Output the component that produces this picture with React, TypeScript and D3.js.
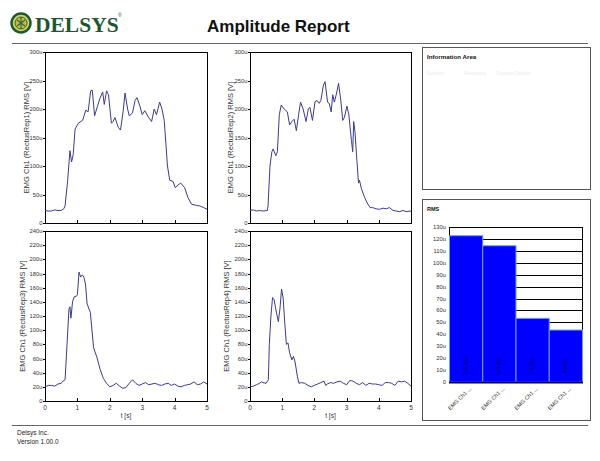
import React from "react";
import * as d3 from "d3";

// ---- Data ----
const rep1: [number, number][] = [
  [0, 22], [0.1, 21], [0.2, 21], [0.3, 23], [0.4, 22], [0.5, 22], [0.58, 25], [0.62, 30],
  [0.7, 75], [0.77, 127], [0.82, 107], [0.87, 120], [0.93, 165], [1.03, 175], [1.16, 180],
  [1.26, 198], [1.33, 195], [1.41, 232], [1.46, 233], [1.53, 188], [1.62, 205], [1.69, 218],
  [1.78, 230], [1.83, 208], [1.9, 232], [1.96, 225], [2.05, 175], [2.1, 178], [2.16, 185],
  [2.26, 168], [2.33, 163], [2.41, 195], [2.47, 228], [2.55, 200], [2.6, 188], [2.7, 193],
  [2.78, 215], [2.84, 220], [2.93, 205], [3.0, 190], [3.08, 197], [3.2, 185], [3.29, 178],
  [3.37, 200], [3.44, 190], [3.54, 212], [3.61, 200], [3.68, 180], [3.73, 140], [3.78, 100],
  [3.85, 75], [3.95, 73], [4.02, 62], [4.11, 67], [4.19, 70], [4.31, 62], [4.41, 45],
  [4.52, 33], [4.67, 31], [4.77, 30], [4.9, 27], [5.0, 24],
];

const rep2: [number, number][] = [
  [0, 22], [0.1, 23], [0.2, 21], [0.3, 22], [0.4, 21], [0.54, 22], [0.56, 30], [0.62, 100],
  [0.68, 125], [0.72, 130], [0.8, 118], [0.85, 125], [0.91, 190], [0.97, 207], [1.06, 200],
  [1.16, 195], [1.23, 172], [1.3, 178], [1.37, 182], [1.44, 162], [1.51, 190], [1.57, 212],
  [1.65, 200], [1.74, 178], [1.81, 200], [1.86, 203], [1.94, 180], [2.02, 213], [2.08, 215],
  [2.15, 210], [2.2, 215], [2.28, 242], [2.33, 248], [2.41, 212], [2.46, 210], [2.52, 195],
  [2.57, 225], [2.62, 212], [2.69, 228], [2.75, 245], [2.82, 215], [2.88, 180], [2.93, 185],
  [3.01, 205], [3.07, 190], [3.15, 145], [3.19, 125], [3.22, 178], [3.26, 160], [3.32, 110],
  [3.37, 70], [3.4, 75], [3.46, 60], [3.56, 45], [3.64, 35], [3.73, 27], [3.81, 27],
  [3.92, 25], [4.02, 24], [4.13, 26], [4.23, 25], [4.33, 27], [4.44, 22], [4.54, 21],
  [4.65, 20], [4.75, 22], [4.85, 20], [5.0, 21],
];

const rep3: [number, number][] = [
  [0, 20], [0.1, 22], [0.2, 22], [0.3, 21], [0.4, 24], [0.5, 25], [0.55, 28], [0.62, 30],
  [0.68, 80], [0.74, 130], [0.77, 133], [0.8, 117], [0.85, 140], [0.9, 147], [0.97, 148],
  [1.0, 150], [1.05, 182], [1.1, 175], [1.15, 178], [1.2, 175], [1.25, 165], [1.3, 137],
  [1.4, 125], [1.45, 100], [1.5, 75], [1.6, 62], [1.7, 45], [1.8, 32], [1.9, 25], [2.0, 20],
  [2.1, 22], [2.2, 25], [2.3, 21], [2.4, 18], [2.5, 19], [2.6, 25], [2.7, 30], [2.8, 25],
  [2.9, 22], [3.0, 24], [3.1, 26], [3.2, 23], [3.3, 24], [3.4, 25], [3.5, 23], [3.6, 22],
  [3.7, 24], [3.8, 25], [3.9, 22], [4.0, 24], [4.1, 21], [4.2, 20], [4.3, 22], [4.4, 23],
  [4.5, 24], [4.6, 27], [4.7, 23], [4.8, 24], [4.9, 27], [5.0, 24],
];

const rep4: [number, number][] = [
  [0, 20], [0.1, 21], [0.2, 23], [0.3, 25], [0.35, 27], [0.4, 26], [0.5, 25], [0.57, 30],
  [0.6, 80], [0.65, 120], [0.7, 146], [0.75, 143], [0.8, 130], [0.88, 112], [0.93, 130],
  [0.98, 158], [1.03, 145], [1.08, 110], [1.13, 80], [1.18, 82], [1.23, 68], [1.3, 58],
  [1.35, 63], [1.4, 55], [1.47, 35], [1.52, 25], [1.6, 26], [1.7, 25], [1.8, 22], [1.9, 20],
  [2.0, 22], [2.1, 24], [2.2, 26], [2.3, 28], [2.35, 22], [2.4, 24], [2.5, 26], [2.6, 25],
  [2.7, 27], [2.8, 28], [2.9, 25], [3.0, 23], [3.1, 29], [3.2, 28], [3.3, 25], [3.4, 23],
  [3.5, 26], [3.6, 22], [3.7, 25], [3.8, 24], [3.9, 24], [4.0, 23], [4.1, 22], [4.2, 26],
  [4.3, 26], [4.4, 25], [4.5, 22], [4.6, 28], [4.7, 27], [4.8, 28], [4.9, 25], [5.0, 21],
];

const channelLabels = [
  "EMG Ch1 (RectusRep1) RMS [V]",
  "EMG Ch1 (RectusRep2) RMS [V]",
  "EMG Ch1 (RectusRep3) RMS [V]",
  "EMG Ch1 (RectusRep4) RMS [V]",
];

const topYTicks = [0, 50, 100, 150, 200, 250, 300];
const bottomYTicks = [0, 20, 40, 60, 80, 100, 120, 140, 160, 180, 200, 220, 240];
const timeTicks = [0, 1, 2, 3, 4, 5];

const rmsCategories = ["EMG Ch1 ...", "EMG Ch1 ... ", "EMG Ch1 ...  ", "EMG Ch1 ...   "];
const rmsValues = [122.7, 114.3, 53.4, 43.6];
const rmsValueLabels = ["122.66u", "114.26u", "53.38u", "43.59u"];
const rmsTicks = [0, 10, 20, 30, 40, 50, 60, 70, 80, 90, 100, 110, 120, 130];

const FONT = "'Liberation Sans', Arial, sans-serif";
const fmtU = (v: number) => (v === 0 ? "0" : `${v}u`);

type PanelProps = {
  left: number;
  top: number;
  width: number;
  height: number;
  data: [number, number][];
  yMax: number;
  yTicks: number[];
  label: string;
  labelOffset: number;
  showX: boolean;
};

function Panel({ left, top, width, height, data, yMax, yTicks, label, labelOffset, showX }: PanelProps) {
  const x = d3.scaleLinear().domain([0, 5]).range([left, left + width]);
  const y = d3.scaleLinear().domain([0, yMax]).range([top + height, top]);
  const line = d3
    .line<[number, number]>()
    .x((d) => x(d[0]))
    .y((d) => y(d[1]));
  const bottom = top + height;
  return (
    <g>
      <rect x={left + 0.5} y={top + 0.5} width={width} height={height} fill="#fff" stroke="#000" strokeWidth={1} />
      <path d={line(data) || ""} fill="none" stroke="#3b3b8e" strokeWidth={1} />
      {yTicks.map((v) => (
        <g key={v}>
          <line x1={left - 2} x2={left} y1={Math.round(y(v)) + 0.5} y2={Math.round(y(v)) + 0.5} stroke="#000" />
          <text x={left - 2.5} y={y(v) + 2} textAnchor="end" fontSize={5.8} fill="#333" fontFamily={FONT}>
            {fmtU(v)}
          </text>
        </g>
      ))}
      {timeTicks.map((t) => (
        <line key={t} x1={Math.round(x(t)) + 0.5} x2={Math.round(x(t)) + 0.5} y1={bottom} y2={bottom - 3} stroke="#000" />
      ))}
      {showX &&
        timeTicks.map((t) => (
          <text key={"l" + t} x={x(t)} y={bottom + 9} textAnchor="middle" fontSize={6.5} fill="#333" fontFamily={FONT}>
            {t}
          </text>
        ))}
      {showX && (
        <text x={left + width / 2} y={bottom + 17} textAnchor="middle" fontSize={6.5} fill="#333" fontFamily={FONT}>
          t [s]
        </text>
      )}
      <text
        transform={`translate(${left - labelOffset},${top + height / 2}) rotate(-90)`}
        textAnchor="middle"
        fontSize={7.5}
        fill="#333"
        fontFamily={FONT}
      >
        {label}
      </text>
    </g>
  );
}

function RmsChart() {
  const left = 449;
  const right = 582;
  const top = 227;
  const bottom = 382;
  const x = d3.scaleBand<string>().domain(rmsCategories).range([left, right]).padding(0);
  const y = d3.scaleLinear().domain([0, 130]).range([bottom, top]);
  return (
    <g>
      {rmsTicks.map((v) => (
        <g key={v}>
          <line x1={left} x2={right} y1={Math.round(y(v)) + 0.5} y2={Math.round(y(v)) + 0.5} stroke="#000" />
          <text x={left - 3} y={y(v) + 2} textAnchor="end" fontSize={5.8} fill="#333" fontFamily={FONT}>
            {fmtU(v)}
          </text>
        </g>
      ))}
      <rect x={left + 0.5} y={top + 0.5} width={right - left} height={bottom - top} fill="none" stroke="#000" />
      {rmsCategories.map((c, i) => (
        <rect
          key={c}
          x={(x(c) || 0) + 0.5}
          y={y(rmsValues[i])}
          width={x.bandwidth()}
          height={bottom - y(rmsValues[i])}
          fill="#0000ff"
          stroke="#6f9cff"
          strokeWidth={1}
        />
      ))}
      {rmsCategories.map((c, i) => (
        <text
          key={"v" + c}
          transform={`translate(${(x(c) || 0) + x.bandwidth() / 2 + 2},${366}) rotate(-90)`}
          textAnchor="middle"
          fontSize={5}
          fill="#00006e"
          fontFamily={FONT}
        >
          {rmsValueLabels[i]}
        </text>
      ))}
      <line x1={left} x2={right + 1} y1={bottom + 0.5} y2={bottom + 0.5} stroke="#00005a" strokeWidth={2} />
      {rmsCategories.map((c) => (
        <text
          key={"x" + c}
          transform={`translate(${(x(c) || 0) + x.bandwidth() / 2 + 6},${389}) rotate(-45)`}
          textAnchor="end"
          fontSize={5.5}
          fill="#333"
          fontFamily={FONT}
        >
          {c.trim()}
        </text>
      ))}
    </g>
  );
}

export default function App() {
  return (
    <svg
      width={600}
      height={461}
      viewBox="0 0 600 461"
      style={{ position: "absolute", left: 0, top: 0, background: "#fff" }}
    >
      <rect x={0} y={0} width={600} height={461} fill="#fff" />
      {/* Logo */}
      <g>
        <circle cx={21} cy={23} r={9.5} fill="#d8cf6a" stroke="#1e5a30" strokeWidth={2.5} />
        <circle cx={21} cy={23} r={6} fill="#c8b84a" stroke="#2e6b35" strokeWidth={1} />
        <path d="M21 17 L21 29 M17 20 L25 26 M25 20 L17 26" stroke="#2e6b35" strokeWidth={1.2} />
        <text x={35} y={32} fontFamily="'Liberation Serif', 'DejaVu Serif', serif" fontWeight="bold" fontSize={21.5} fill="#1e5631">
          DELSYS
        </text>
        <text x={118} y={17} fontFamily={FONT} fontSize={5} fill="#1e5631">
          ®
        </text>
      </g>
      <text x={207} y={32} fontFamily={FONT} fontWeight="bold" fontSize={17} fill="#111">
        Amplitude Report
      </text>
      <line x1={12} x2={588} y1={43.5} y2={43.5} stroke="#666" strokeWidth={1} />

      <Panel left={45} top={52} width={162} height={171} data={rep1} yMax={300} yTicks={topYTicks} label={channelLabels[0]} labelOffset={16} showX={false} />
      <Panel left={250} top={52} width={161} height={171} data={rep2} yMax={300} yTicks={topYTicks} label={channelLabels[1]} labelOffset={17} showX={false} />
      <Panel left={45} top={231} width={162} height={170} data={rep3} yMax={240} yTicks={bottomYTicks} label={channelLabels[2]} labelOffset={20} showX={true} />
      <Panel left={250} top={231} width={161} height={170} data={rep4} yMax={240} yTicks={bottomYTicks} label={channelLabels[3]} labelOffset={21} showX={true} />

      {/* Information area */}
      <rect x={422.5} y={47.5} width={168} height={142} fill="none" stroke="#555" />
      <text x={427} y={59} fontFamily={FONT} fontWeight="bold" fontSize={6.2} fill="#111">
        Information Area
      </text>
      <text x={427} y={75} fontFamily={FONT} fontSize={5} fill="#ececec">Subject</text>
      <text x={464} y={75} fontFamily={FONT} fontSize={5} fill="#ececec">Recorded</text>
      <text x={496} y={75} fontFamily={FONT} fontSize={5} fill="#ececec">Session Details</text>

      {/* RMS area */}
      <rect x={422.5} y={199.5} width={168} height={221} fill="none" stroke="#555" />
      <text x={427} y={211} fontFamily={FONT} fontWeight="bold" fontSize={5.5} fill="#111">
        RMS
      </text>
      <RmsChart />

      {/* Footer */}
      <line x1={12} x2={588} y1={425.5} y2={425.5} stroke="#666" strokeWidth={1} />
      <text x={17} y={435} fontFamily={FONT} fontSize={6.5} fill="#222">
        Delsys Inc.
      </text>
      <text x={17} y={444} fontFamily={FONT} fontSize={6.5} fill="#222">
        Version 1.00.0
      </text>
    </svg>
  );
}
